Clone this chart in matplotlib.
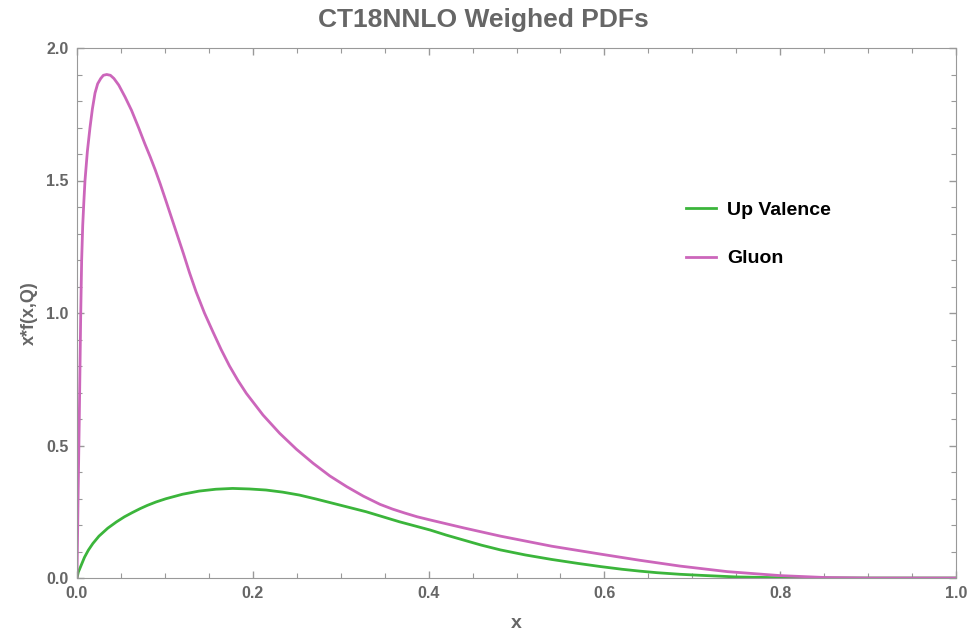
"""CT18NNLO: gewichtete PDFs x*f(x,Q) fuer Up-Valenz und Gluon."""

import matplotlib
matplotlib.use("Agg")
import matplotlib.pyplot as plt
from matplotlib.ticker import MultipleLocator

plt.rcParams["font.family"] = ["Liberation Sans", "DejaVu Sans"]

# Werte
x_uv = [0, 0.0015, 0.005, 0.0085, 0.0129, 0.018, 0.025, 0.035, 0.045,
        0.054, 0.063, 0.072, 0.08, 0.09, 0.101, 0.12, 0.139, 0.158, 0.177,
        0.196, 0.215, 0.234, 0.253, 0.272, 0.291, 0.31, 0.329, 0.348,
        0.367, 0.385, 0.4018, 0.42, 0.44, 0.46, 0.4817, 0.51, 0.54, 0.57,
        0.5959, 0.62, 0.64, 0.66, 0.686, 0.71, 0.75, 0.80, 0.85, 0.9, 1.0]
y_uv = [0, 0.022, 0.05, 0.078, 0.105, 0.13, 0.158, 0.188, 0.212,
        0.231, 0.247, 0.262, 0.274, 0.287, 0.299, 0.316, 0.328, 0.335, 0.338,
        0.336, 0.332, 0.324, 0.313, 0.298, 0.282, 0.266, 0.250, 0.231,
        0.212, 0.196, 0.181, 0.162, 0.143, 0.124, 0.106, 0.087, 0.07,
        0.055, 0.043, 0.033, 0.026, 0.02, 0.014, 0.01, 0.004, 0.001,
        0.0003, 0, 0]

x_g = [0, 0.0012, 0.0026, 0.0042, 0.0053, 0.0065, 0.0078, 0.0091, 0.0118,
       0.0148, 0.0175, 0.0205, 0.0235, 0.027, 0.030, 0.0338, 0.038, 0.042,
       0.0475, 0.0547, 0.062, 0.070, 0.077, 0.0832, 0.089, 0.0946, 0.101,
       0.108, 0.1145, 0.121, 0.128, 0.1355, 0.145, 0.1545, 0.164, 0.1735,
       0.183, 0.1926, 0.2116, 0.2306, 0.2496, 0.2686, 0.2877, 0.3067,
       0.3257, 0.3447, 0.359, 0.373, 0.387, 0.4018, 0.44, 0.4817, 0.54,
       0.5959, 0.64, 0.686, 0.74, 0.80, 0.85, 0.9, 1.0]
y_g = [0, 0.3, 0.6, 0.99, 1.2, 1.33, 1.42, 1.5, 1.61,
       1.7, 1.77, 1.83, 1.865, 1.885, 1.897, 1.9, 1.897, 1.885,
       1.86, 1.815, 1.765, 1.7, 1.64, 1.59, 1.54, 1.488, 1.425,
       1.355, 1.29, 1.225, 1.152, 1.08, 1.0, 0.93, 0.862, 0.80,
       0.746, 0.697, 0.615, 0.546, 0.486, 0.433, 0.385, 0.345,
       0.309, 0.278, 0.26, 0.245, 0.231, 0.219, 0.189, 0.158, 0.12,
       0.09, 0.067, 0.045, 0.024, 0.009, 0.002, 0, 0]

GREY = "#666666"
FRAME = "#999999"

fig = plt.figure(figsize=(9.67, 6.4), dpi=100)
ax = fig.add_axes([77 / 967, 62 / 640, 879 / 967, 530 / 640])

ax.plot(x_uv, y_uv, color="#3bb53b", lw=2.0, label="Up Valence")
ax.plot(x_g, y_g, color="#cc66bb", lw=2.0, label="Gluon")

ax.set_xlim(0, 1)
ax.set_ylim(0, 2)
ax.xaxis.set_major_locator(MultipleLocator(0.2))
ax.xaxis.set_minor_locator(MultipleLocator(0.05))
ax.yaxis.set_major_locator(MultipleLocator(0.5))
ax.yaxis.set_minor_locator(MultipleLocator(0.1))
ax.tick_params(which="both", direction="in", top=True, right=True,
               color=FRAME, labelcolor=GREY, labelsize=11.5, pad=6)
ax.tick_params(which="major", length=5, width=1)
ax.tick_params(which="minor", length=3.5, width=0.8)
for lbl in ax.get_xticklabels() + ax.get_yticklabels():
    lbl.set_fontweight("bold")
for sp in ax.spines.values():
    sp.set_color(FRAME)

ax.set_xlabel("x", fontsize=14, fontweight="bold", color=GREY, labelpad=10)
ax.set_ylabel("x*f(x,Q)", fontsize=13, fontweight="bold", color=GREY, labelpad=6)
fig.text(0.5, 1 - 20 / 640, "CT18NNLO Weighed PDFs", ha="center", va="center",
         fontsize=19, fontweight="bold", color=GREY)

leg = ax.legend(loc="upper left", bbox_to_anchor=(686 / 967, 1 - 201 / 640),
                bbox_transform=fig.transFigure, frameon=False, borderpad=0,
                borderaxespad=0, handlelength=1.55, handletextpad=0.55,
                labelspacing=1.6, prop={"size": 14, "weight": "bold"})

fig.savefig("out.png", dpi=100)
